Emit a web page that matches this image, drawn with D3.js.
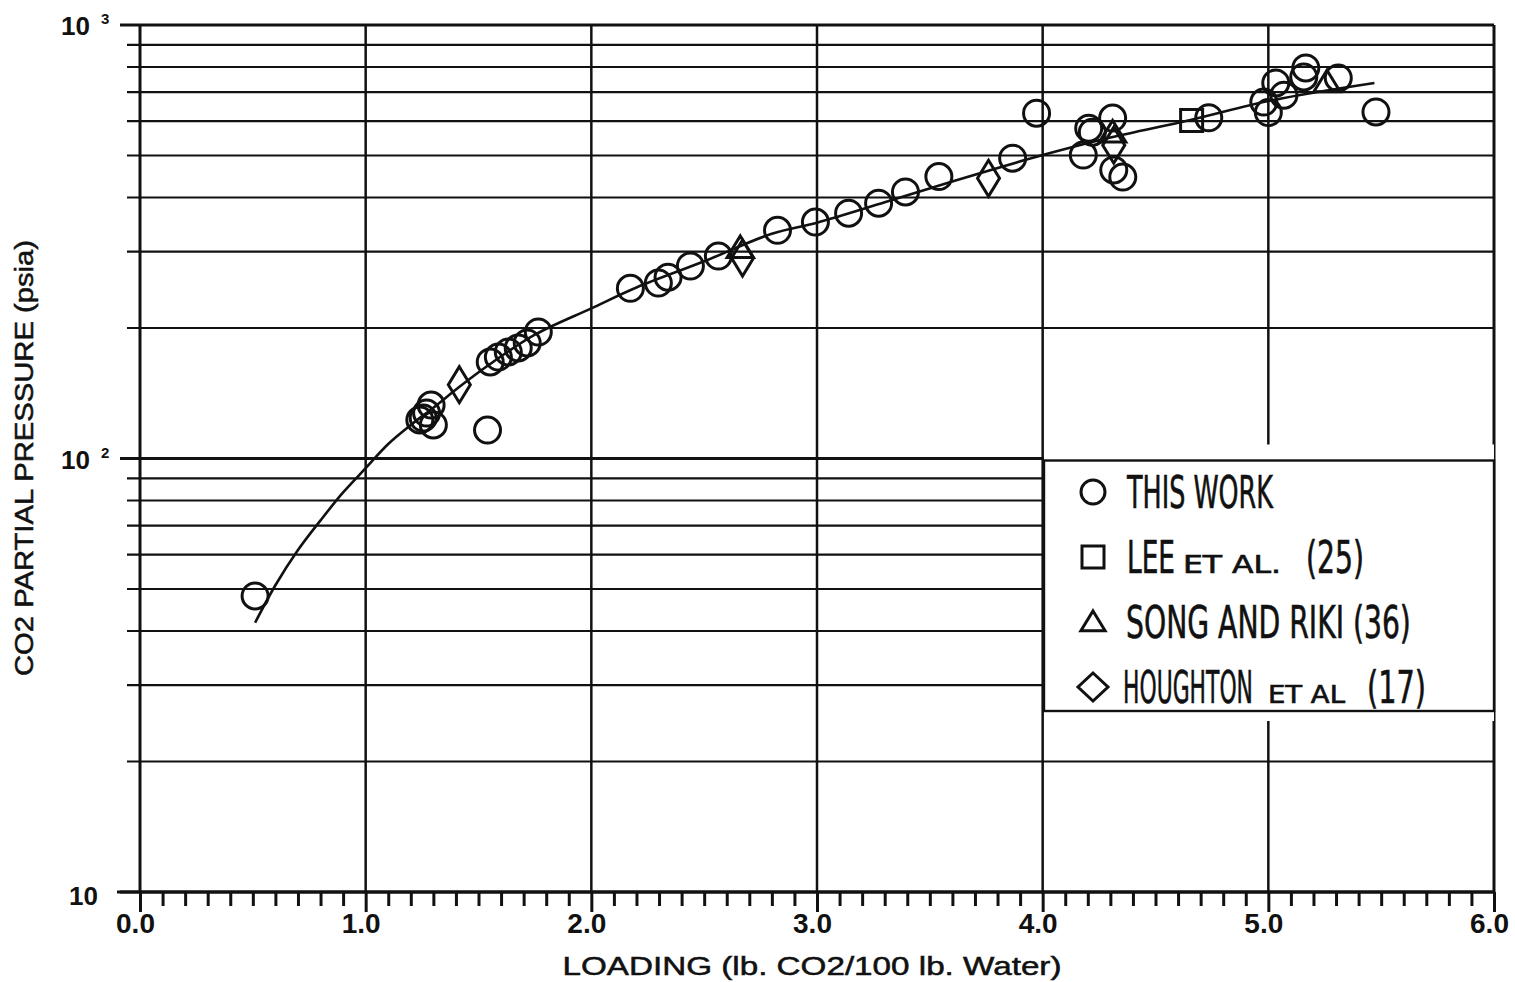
<!DOCTYPE html>
<html>
<head>
<meta charset="utf-8">
<script src="https://cdn.jsdelivr.net/npm/d3@7"></script>
<style>
  body { margin: 0; background: #fff; }
</style>
</head>
<body>
<div id="chart"></div>
<script>
let width = 1515;
let height = 982;
let margin = ({top: 25, right: 21, bottom: 90, left: 140});

// "THIS WORK" circles
let thisWorkX = [0.51, 1.24, 1.255, 1.27, 1.29, 1.30, 1.54, 1.552, 1.588, 1.632, 1.676, 1.716, 1.765,
    2.173, 2.297, 2.34, 2.439, 2.563, 2.825, 2.993, 3.14, 3.273, 3.392, 3.54, 3.867, 3.973,
    4.18, 4.204, 4.22, 4.31, 4.315, 4.355, 4.736, 4.98, 5.0, 5.033, 5.069, 5.157, 5.166, 5.31, 5.477];
let thisWorkY = [48.2, 122.7, 124, 127.3, 132.8, 119.5, 116.3, 167, 171.4, 176.1, 179.9, 184.7, 195.8,
    247, 254, 262, 278, 293, 336, 351, 368, 388, 412, 447, 493, 626,
    501, 578, 566, 610, 463, 446, 611, 664, 628, 735, 689, 759, 796, 755, 630];

// LEE ET AL. (25) squares
let leeX = [4.66];
let leeY = [602];

// SONG AND RIKI (36) triangles
let songX = [2.66, 4.31, 5.26];
let songY = [306, 565, 738];

// HOUGHTON ET AL (17) diamonds
let houghtonX = [1.415, 2.67, 3.76, 4.315];
let houghtonY = [148, 290, 443, 528];

// fitted curve
let curveX = [0.51, 0.6, 0.7, 0.8, 0.9, 1.0, 1.1, 1.2, 1.3, 1.42, 1.55, 1.75, 2.0, 2.2, 2.5, 2.8, 3.0, 3.3, 3.64, 4.0, 4.3, 4.65, 5.02, 5.47];
let curveY = [41.8, 51, 61.5, 72, 83.5, 95, 108, 119.5, 131, 147, 165, 193, 222, 248, 285, 330, 350, 390, 442, 501, 550, 603, 671, 735];

let xTickValues = [0, 1, 2, 3, 4, 5, 6];
let xTickLabels = ["0.0", "1.0", "2.0", "3.0", "4.0", "5.0", "6.0"];
let yGridValues = [10, 20, 30, 40, 50, 60, 70, 80, 90, 100, 200, 300, 400, 500, 600, 700, 800, 900, 1000];
let yDecades = [10, 100, 1000];
let yDecadeExp = ["", "2", "3"];

let xTitle = "LOADING (lb. CO2/100 lb. Water)";
let yTitle = "CO2 PARTIAL PRESSURE (psia)";

// legend text pieces (big letters / small caps)
let legendRows = [
    [{t: "THIS WORK", big: true}],
    [{t: "LEE", big: true}, {t: "ET AL.", big: false}, {t: "(25)", big: true}],
    [{t: "SONG AND RIKI (36)", big: true}],
    [{t: "HOUGHTON", big: true}, {t: "ET AL", big: false}, {t: "(17)", big: true}]
];
let legendSymbols = ["circle", "square", "triangle", "diamond"];

let ink = "#111";

let svg = d3.select("#chart")
    .append("svg")
    .attr("width", width)
    .attr("height", height);

let xScale = d3.scaleLinear()
    .domain([0, 6])
    .range([margin.left, width - margin.right]);

let yScale = d3.scaleLog()
    .domain([10, 1000])
    .range([height - margin.bottom, margin.top]);

let x0 = xScale(0), x6 = xScale(6);
let yTop = yScale(1000), yBot = yScale(10);

// horizontal grid lines (they stick out left of the axis)
svg.append("g").selectAll("line")
    .data(yGridValues)
    .enter().append("line")
    .attr("x1", d => yDecades.includes(d) ? x0 - 20 : x0 - 13)
    .attr("x2", x6)
    .attr("y1", d => yScale(d))
    .attr("y2", d => yScale(d))
    .attr("stroke", ink)
    .attr("stroke-width", d => yDecades.includes(d) ? 2.8 : 2.2);

// vertical grid lines at integers
svg.append("g").selectAll("line")
    .data(xTickValues)
    .enter().append("line")
    .attr("x1", d => xScale(d))
    .attr("x2", d => xScale(d))
    .attr("y1", yTop)
    .attr("y2", yBot)
    .attr("stroke", ink)
    .attr("stroke-width", d => (d === 0 || d === 6) ? 3 : 2.5);

// x axis line
svg.append("line")
    .attr("x1", x0 - 23).attr("x2", x6)
    .attr("y1", yBot).attr("y2", yBot)
    .attr("stroke", ink).attr("stroke-width", 3);

// minor ticks every 0.1
let minorTicks = d3.range(0, 61).map(i => i / 10).filter(v => Math.abs(v - Math.round(v)) > 1e-6);
let minorAxis = d3.axisBottom(xScale).tickValues(minorTicks).tickSize(14).tickFormat("").tickSizeOuter(0);
let gMinor = svg.append("g")
    .attr("transform", "translate(0," + yBot + ")")
    .call(minorAxis);
gMinor.select(".domain").remove();
gMinor.selectAll(".tick line").attr("stroke", ink).attr("stroke-width", 3);

// major ticks with labels
let majorAxis = d3.axisBottom(xScale)
    .tickValues(xTickValues)
    .tickSize(20)
    .tickSizeOuter(0)
    .tickPadding(0)
    .tickFormat((d, i) => xTickLabels[i]);
let gMajor = svg.append("g")
    .attr("transform", "translate(0," + yBot + ")")
    .call(majorAxis);
gMajor.select(".domain").remove();
gMajor.selectAll(".tick line").attr("stroke", ink).attr("stroke-width", 3);
gMajor.selectAll(".tick text")
    .attr("y", 41)
    .attr("dy", 0)
    .attr("dx", -5)
    .attr("fill", ink)
    .style("font-family", "'Liberation Sans', Arial, sans-serif")
    .style("font-weight", "bold")
    .style("font-size", "28px");

// y decade labels
yDecades.forEach(function(d, i) {
    let yy = yScale(d);
    let isBottom = (i === 0);
    svg.append("text")
        .attr("x", isBottom ? 98 : 90)
        .attr("y", yy + (isBottom ? 13 : 10))
        .attr("text-anchor", "end")
        .attr("fill", ink)
        .style("font-family", "'Liberation Sans', Arial, sans-serif")
        .style("font-weight", "bold")
        .style("font-size", "26px")
        .text("10");
    if (yDecadeExp[i]) {
        svg.append("text")
            .attr("x", 101)
            .attr("y", yy - 1)
            .attr("fill", ink)
            .style("font-family", "'Liberation Sans', Arial, sans-serif")
            .style("font-weight", "bold")
            .style("font-size", "15px")
            .text(yDecadeExp[i]);
    }
});

// axis titles
svg.append("text")
    .attr("x", 812)
    .attr("y", 975)
    .attr("text-anchor", "middle")
    .attr("textLength", 499)
    .attr("lengthAdjust", "spacingAndGlyphs")
    .attr("fill", ink)
    .style("font-family", "'Liberation Sans', Arial, sans-serif")
    .style("font-size", "25px")
    .style("stroke", ink)
    .style("stroke-width", 0.5)
    .text(xTitle);

svg.append("text")
    .attr("transform", "translate(33,458) rotate(-90)")
    .attr("text-anchor", "middle")
    .attr("textLength", 436)
    .attr("lengthAdjust", "spacingAndGlyphs")
    .attr("fill", ink)
    .style("font-family", "'Liberation Sans', Arial, sans-serif")
    .style("font-size", "25px")
    .style("stroke", ink)
    .style("stroke-width", 0.5)
    .text(yTitle);

// legend box (white, hides the grid behind it)
let legX = 1044, legTop = yScale(100) + 2, legBot = 711;
svg.append("rect")
    .attr("x", legX).attr("y", legTop - 16)
    .attr("width", x6 - legX).attr("height", legBot - legTop + 26)
    .attr("fill", "#fff");
svg.append("rect")
    .attr("x", legX).attr("y", legTop)
    .attr("width", x6 - legX).attr("height", legBot - legTop)
    .attr("fill", "none")
    .attr("stroke", ink).attr("stroke-width", 2.4);

function symbolPath(kind, s) {
    if (kind === "square") {
        return "M" + (-s) + "," + (-s) + "H" + s + "V" + s + "H" + (-s) + "Z";
    }
    if (kind === "triangle") {
        return "M0," + (-s) + "L" + (s * 1.1) + "," + (s * 0.8) + "L" + (-s * 1.1) + "," + (s * 0.8) + "Z";
    }
    return "";
}
function diamondPath(w, h) {
    return "M0," + (-h) + "L" + w + ",0L0," + h + "L" + (-w) + ",0Z";
}

// legend layout: row centres and left/right edge of each text piece
let rowY = [492, 557, 622, 687];
let pieceSpan = [
    [[1127, 1273]],
    [[1127, 1175], [1183, 1281], [1306, 1364]],
    [[1126, 1411]],
    [[1123, 1253], [1268, 1345], [1367, 1426]]
];

legendRows.forEach(function(row, i) {
    let cy = rowY[i];
    let sym = legendSymbols[i];
    if (sym === "circle") {
        svg.append("circle").attr("cx", 1093).attr("cy", cy).attr("r", 12)
            .attr("fill", "none").attr("stroke", ink).attr("stroke-width", 3);
    } else if (sym === "diamond") {
        svg.append("path").attr("transform", "translate(1093," + cy + ")")
            .attr("d", diamondPath(15, 14))
            .attr("fill", "none").attr("stroke", ink).attr("stroke-width", 3);
    } else {
        svg.append("path").attr("transform", "translate(1093," + cy + ")")
            .attr("d", symbolPath(sym, 11))
            .attr("fill", "none").attr("stroke", ink).attr("stroke-width", 3)
            .attr("stroke-linejoin", "miter");
    }
    row.forEach(function(p, j) {
        let span = pieceSpan[i][j];
        let g = svg.append("g");
        let txt = g.append("text")
            .attr("x", 0).attr("y", 0)
            .attr("fill", ink)
            .style("font-family", "'Liberation Sans Narrow', 'DejaVu Sans Condensed', 'Liberation Sans', sans-serif")
            .style("font-size", p.big ? "44px" : "24px")
            .style("stroke", ink)
            .style("stroke-width", 0.6)
            .text(p.t);
        let w = txt.node().getComputedTextLength();
        let sx = (span[1] - span[0]) / w;
        g.attr("transform", "translate(" + span[0] + "," + (cy + 16) + ") scale(" + sx + ",1)");
    });
});

// fitted curve
let curvePts = curveX.map((v, i) => [xScale(v), yScale(curveY[i])]);
svg.append("path")
    .datum(curvePts)
    .attr("d", d3.line().curve(d3.curveCatmullRom.alpha(0.5)))
    .attr("fill", "none")
    .attr("stroke", ink)
    .attr("stroke-width", 2.6);

// data markers
svg.append("g").selectAll("circle")
    .data(thisWorkX.map((v, i) => ({x: v, y: thisWorkY[i]})))
    .enter().append("circle")
    .attr("cx", d => xScale(d.x))
    .attr("cy", d => yScale(d.y))
    .attr("r", 13)
    .attr("fill", "none")
    .attr("stroke", ink)
    .attr("stroke-width", 3);

svg.append("g").selectAll("path")
    .data(leeX.map((v, i) => ({x: v, y: leeY[i]})))
    .enter().append("path")
    .attr("transform", d => "translate(" + xScale(d.x) + "," + yScale(d.y) + ")")
    .attr("d", symbolPath("square", 11))
    .attr("fill", "none").attr("stroke", ink).attr("stroke-width", 3);

svg.append("g").selectAll("path")
    .data(songX.map((v, i) => ({x: v, y: songY[i]})))
    .enter().append("path")
    .attr("transform", d => "translate(" + xScale(d.x) + "," + yScale(d.y) + ")")
    .attr("d", symbolPath("triangle", 12))
    .attr("fill", "none").attr("stroke", ink).attr("stroke-width", 3);

svg.append("g").selectAll("path")
    .data(houghtonX.map((v, i) => ({x: v, y: houghtonY[i]})))
    .enter().append("path")
    .attr("transform", d => "translate(" + xScale(d.x) + "," + yScale(d.y) + ")")
    .attr("d", diamondPath(11, 18))
    .attr("fill", "none").attr("stroke", ink).attr("stroke-width", 3);
</script>
</body>
</html>
